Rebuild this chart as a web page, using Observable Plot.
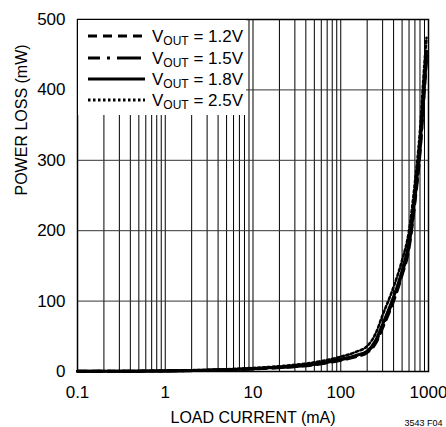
<!DOCTYPE html>
<html>
<head>
<meta charset="utf-8">
<script src="https://cdn.jsdelivr.net/npm/d3@7"></script>
<script src="https://cdn.jsdelivr.net/npm/@observablehq/plot@0.6"></script>
<style>
  body { margin: 0; background: #fff; }
  #wrap { position: relative; width: 446px; height: 427px; overflow: hidden; }
  #legend { position: absolute; left: 78px; top: 20px; width: 168px; height: 95px; background: #fff; }
</style>
</head>
<body>
<div id="wrap"></div>
<script>
// Load current (mA)
const current = [0.1, 0.2, 0.5, 1, 2, 5, 10, 20, 50, 100, 150, 200, 250, 300, 400, 500, 600, 700, 800, 900, 950];
// Power loss (mW) per output voltage
const p12 = [0.2, 0.3, 0.5, 0.8, 1.2, 2.3, 3.6, 5.5, 9.5, 16, 21, 27, 40, 62, 100, 137, 175, 240, 310, 400, 445];
const p15 = [0.2, 0.3, 0.5, 0.8, 1.3, 2.4, 3.8, 5.8, 10, 17, 22, 28, 42, 65, 103, 140, 180, 245, 315, 408, 450];
const p18 = [0.2, 0.3, 0.5, 0.8, 1.3, 2.5, 4.0, 6.0, 10.5, 17.5, 23, 29, 44, 67, 106, 143, 184, 250, 320, 413, 455];
const p25 = [0.4, 0.5, 0.8, 1.2, 1.8, 3.2, 5.0, 7.5, 13, 21, 28, 36, 54, 80, 120, 158, 200, 268, 342, 438, 474];
const seriesNames = ["VOUT = 1.2V", "VOUT = 1.5V", "VOUT = 1.8V", "VOUT = 2.5V"];
const seriesValues = [p12, p15, p18, p25];
const seriesDash = ["9,6", "24,7,3,7", null, "2.5,2.5"];

const xTicks = [0.1, 1, 10, 100, 1000];
const yTicks = [0, 100, 200, 300, 400, 500];
const yGrid = [100, 200, 300, 400];
const xGrid = [];
for (const d of [0.1, 1, 10, 100]) for (let k = 2; k <= 9; k++) xGrid.push(+(d * k).toPrecision(3));
xGrid.push(1, 10, 100);

const rows = [];
seriesValues.forEach((vals, si) => vals.forEach((v, i) => rows.push({s: si, x: current[i], y: v})));

const font = '"Liberation Sans", Arial, Helvetica, sans-serif';

const lineMarks = seriesValues.map((vals, si) =>
  Plot.line(rows.filter(r => r.s === si), {
    x: "x", y: "y", curve: "monotone-x", stroke: "#000", strokeWidth: si === 3 ? 2.6 : 3,
    strokeDasharray: seriesDash[si] || undefined
  })
);

const chart = Plot.plot({
  width: 446,
  height: 427,
  marginLeft: 77,
  marginRight: 18,
  marginTop: 19,
  marginBottom: 56,
  style: {fontFamily: font, background: "#fff", overflow: "visible"},
  x: {type: "log", domain: [0.1, 1000]},
  y: {domain: [0, 500]},
  marks: [
    Plot.ruleX(xGrid, {stroke: "#000", strokeWidth: 1}),
    Plot.ruleY(yGrid, {stroke: "#333", strokeWidth: 1}),
    ...lineMarks,
    Plot.frame({stroke: "#000", strokeWidth: 1.5}),
    Plot.axisX(xTicks, {tickSize: 0, tickPadding: 14, fontSize: 17, label: null,
      tickFormat: d => String(d), fontFamily: font}),
    Plot.axisY(yTicks, {tickSize: 0, tickPadding: 12, fontSize: 17, label: null,
      tickFormat: d => String(d), fontFamily: font}),
    Plot.text(["LOAD CURRENT (mA)"], {frameAnchor: "bottom", lineAnchor: "middle", dy: 46, fontSize: 16, fill: "#000", fontFamily: font}),
    Plot.text(["POWER LOSS (mW)"], {frameAnchor: "left", lineAnchor: "middle", rotate: -90, dx: -56, fontSize: 16, fill: "#000", fontFamily: font}),
    Plot.text(["3543 F04"], {frameAnchor: "bottom-right", textAnchor: "end", lineAnchor: "middle", dx: 14, dy: 52, fontSize: 9, fill: "#000", fontFamily: font})
  ]
});

const wrap = document.getElementById("wrap");
wrap.appendChild(chart);

// Legend (white box in upper-left of plot area)
const legend = document.createElement("div");
legend.id = "legend";
const ns = "http://www.w3.org/2000/svg";
const lsvg = document.createElementNS(ns, "svg");
lsvg.setAttribute("width", 168);
lsvg.setAttribute("height", 95);
lsvg.style.fontFamily = font;
const rowY = [16, 38, 59, 80];
seriesNames.forEach((name, i) => {
  const ln = document.createElementNS(ns, "line");
  ln.setAttribute("x1", 10); ln.setAttribute("x2", 67);
  ln.setAttribute("y1", rowY[i]); ln.setAttribute("y2", rowY[i]);
  ln.setAttribute("stroke", "#000"); ln.setAttribute("stroke-width", 3);
  if (seriesDash[i]) ln.setAttribute("stroke-dasharray", seriesDash[i]);
  if (i === 1) ln.setAttribute("stroke-dashoffset", 12);
  lsvg.appendChild(ln);
  const t = document.createElementNS(ns, "text");
  t.setAttribute("x", 74); t.setAttribute("y", rowY[i] + 6);
  t.setAttribute("font-size", 17);
  t.setAttribute("fill", "#000");
  const a = document.createElementNS(ns, "tspan"); a.textContent = "V";
  const b = document.createElementNS(ns, "tspan"); b.textContent = "OUT";
  b.setAttribute("font-size", 12); b.setAttribute("dy", 3);
  const c = document.createElementNS(ns, "tspan"); c.textContent = " = " + name.split("= ")[1];
  c.setAttribute("dy", -3);
  t.appendChild(a); t.appendChild(b); t.appendChild(c);
  lsvg.appendChild(t);
});
legend.appendChild(lsvg);
wrap.appendChild(legend);
</script>
</body>
</html>
